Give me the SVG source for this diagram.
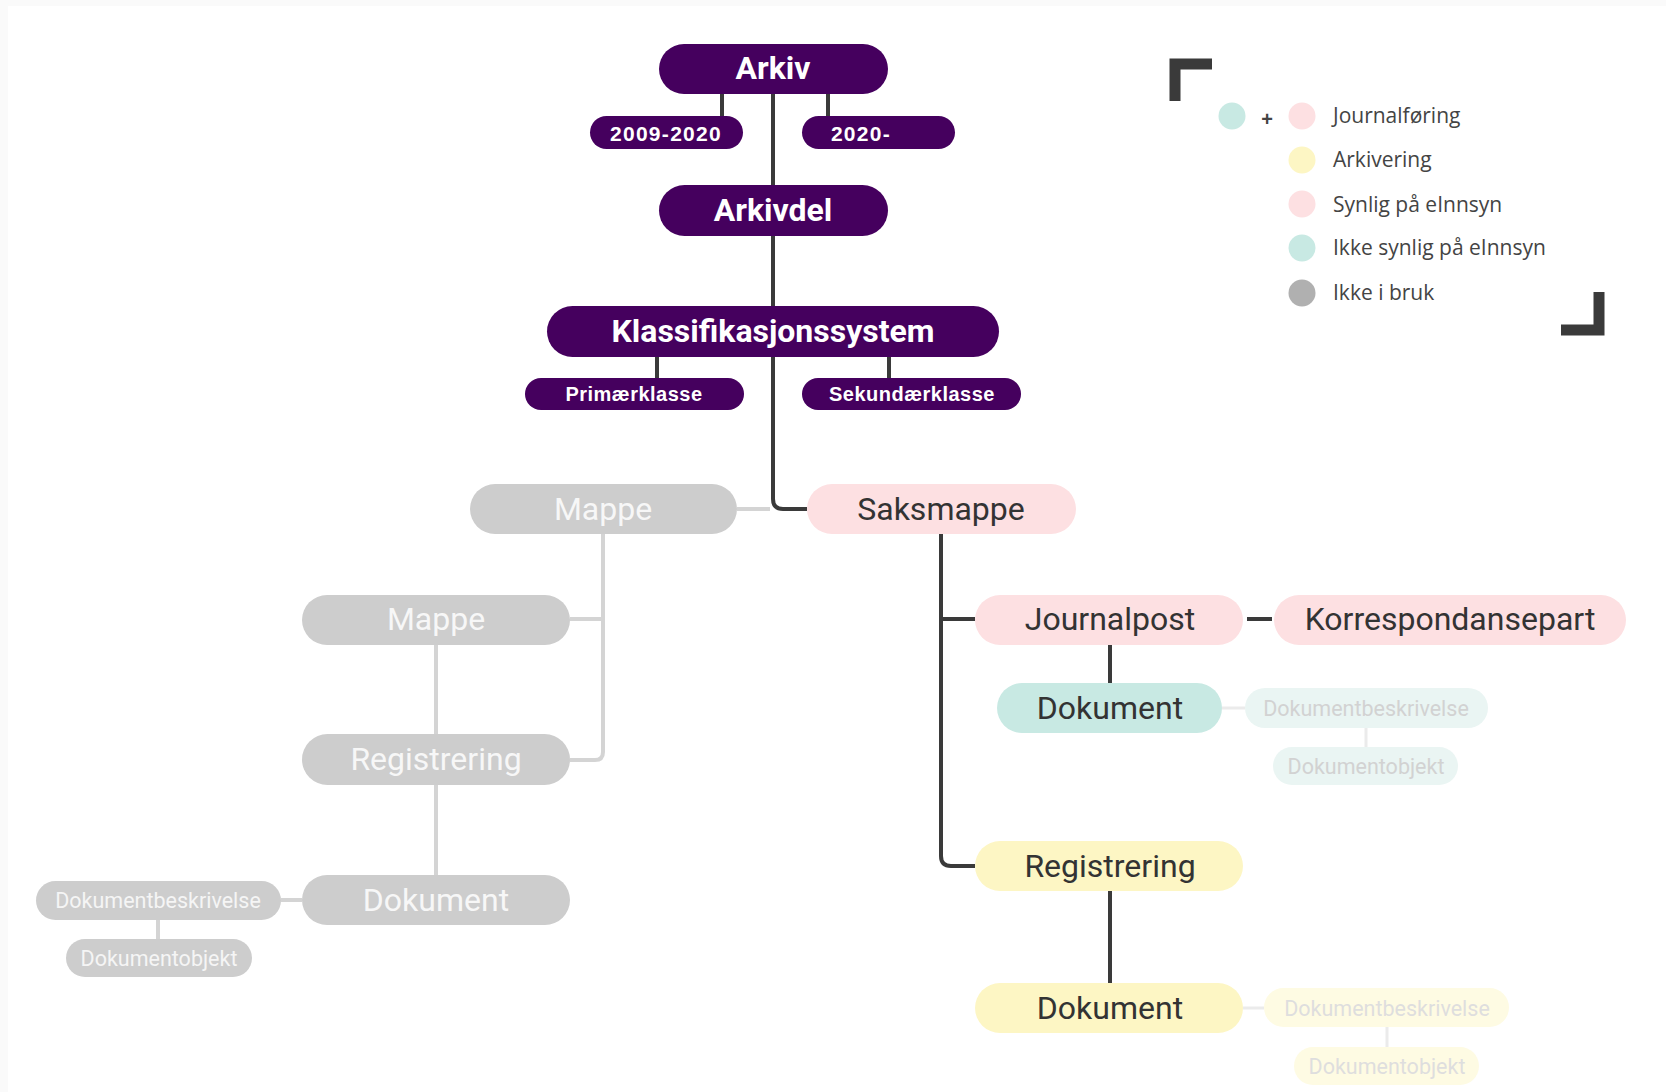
<svg xmlns="http://www.w3.org/2000/svg" width="1666" height="1092" viewBox="0 0 1666 1092">
<style>
.pill{stroke:none}
.pu{fill:#45005e}
.pk{fill:#fde0e2}
.te{fill:#c8e9e3}
.ye{fill:#fdf6c4}
.gr{fill:#cdcdcd}
.lte{fill:#eaf5f3}
.lye{fill:#fefbe3}
text{dominant-baseline:central;text-anchor:middle}
.tb{font-family:Roboto,"Liberation Sans",sans-serif;font-weight:700;font-size:32px;fill:#fff}
.ts{font-family:"Liberation Sans",Arial,sans-serif;font-weight:700;font-size:20px;fill:#fff;letter-spacing:0.5px}
.tm{font-family:Roboto,"Liberation Sans",sans-serif;font-size:32px;fill:#333}
.tg{font-family:Roboto,"Liberation Sans",sans-serif;font-size:32px;fill:#f7f7f7}
.tsg{font-family:Roboto,"Liberation Sans",sans-serif;font-size:21.5px;fill:#f5f5f5}
.tsl{font-family:Roboto,"Liberation Sans",sans-serif;font-size:21.5px;fill:#d2d2d2}
.tl{font-family:"Open Sans","Liberation Sans",sans-serif;font-size:21px;fill:#444;text-anchor:start}
.dk{fill:none;stroke:#3a3a3a;stroke-width:4}
.lg{fill:none;stroke:#d4d4d4;stroke-width:4}
.ll{fill:none;stroke:#ebebeb;stroke-width:3}
</style>
<rect x="0" y="0" width="1666" height="1092" fill="#fafafa"/>
<rect x="8" y="6" width="1658" height="1086" fill="#ffffff"/>
<g id="connectors">
<path class="dk" d="M773 94 V185 M773 236 V306 M773 357 V499 Q773 509 783 509 H807"/>
<path class="dk" d="M722 94 V116 M828 94 V116 M657 357 V378 M889 357 V378"/>
<path class="lg" d="M737 509 H770"/>
<path class="lg" d="M603 534 V752 Q603 760 595 760 H570 M603 619 H570"/>
<path class="lg" d="M436 645 V734 M436 785 V875 M281 900 H302 M158 920 V939"/>
<path class="dk" d="M941 534 V856 Q941 866 951 866 H975 M941 619 H975"/>
<path class="dk" d="M1247 619 H1272 M1110 645 V683 M1110 891 V983"/>
<path class="ll" d="M1222 708 H1245 M1366 728 V747 M1243 1008 H1264 M1387 1027 V1047"/>
</g>
<g id="arkiv"><rect class="pill pu" x="659" y="44" width="229" height="50" rx="25"/><text class="tb" x="773" y="68">Arkiv</text></g>
<g id="p2009"><rect class="pill pu" x="590" y="116" width="153" height="33" rx="16.5"/><text class="ts" x="666" y="133" style="font-size:21px;letter-spacing:1.3px">2009-2020</text></g>
<g id="p2020"><rect class="pill pu" x="802" y="116" width="153" height="33" rx="16.5"/><text class="ts" x="861" y="133" style="font-size:21px;letter-spacing:1.3px">2020-</text></g>
<g id="arkivdel"><rect class="pill pu" x="659" y="185" width="229" height="51" rx="25.5"/><text class="tb" x="773" y="210">Arkivdel</text></g>
<g id="klass"><rect class="pill pu" x="547" y="306" width="452" height="51" rx="25.5"/><text class="tb" x="773" y="331">Klassifikasjonssystem</text></g>
<g id="primaer"><rect class="pill pu" x="525" y="378" width="219" height="32" rx="16"/><text class="ts" x="634" y="394">Primærklasse</text></g>
<g id="sekundaer"><rect class="pill pu" x="802" y="378" width="219" height="32" rx="16"/><text class="ts" x="912" y="394">Sekundærklasse</text></g>
<g id="mappe1"><rect class="pill gr" x="470" y="484" width="267" height="50" rx="25"/><text class="tg" x="603" y="509">Mappe</text></g>
<g id="saksmappe"><rect class="pill pk" x="807" y="484" width="269" height="50" rx="25"/><text class="tm" x="941" y="509">Saksmappe</text></g>
<g id="mappe2"><rect class="pill gr" x="302" y="595" width="268" height="50" rx="25"/><text class="tg" x="436" y="619">Mappe</text></g>
<g id="registrering-g"><rect class="pill gr" x="302" y="734" width="268" height="51" rx="25.5"/><text class="tg" x="436" y="759">Registrering</text></g>
<g id="dokument-g"><rect class="pill gr" x="302" y="875" width="268" height="50" rx="25"/><text class="tg" x="436" y="900">Dokument</text></g>
<g id="dokbesk-g"><rect class="pill gr" x="36" y="881" width="245" height="39" rx="19.5"/><text class="tsg" x="158" y="900">Dokumentbeskrivelse</text></g>
<g id="dokobj-g"><rect class="pill gr" x="66" y="939" width="186" height="38" rx="19"/><text class="tsg" x="159" y="958">Dokumentobjekt</text></g>
<g id="journalpost"><rect class="pill pk" x="975" y="595" width="268" height="50" rx="25"/><text class="tm" x="1110" y="619">Journalpost</text></g>
<g id="korrespondansepart"><rect class="pill pk" x="1274" y="595" width="352" height="50" rx="25"/><text class="tm" x="1450" y="619">Korrespondansepart</text></g>
<g id="dokument-t"><rect class="pill te" x="997" y="683" width="225" height="50" rx="25"/><text class="tm" x="1110" y="708">Dokument</text></g>
<g id="dokbesk-t"><rect class="pill lte" x="1245" y="688" width="243" height="40" rx="20"/><text class="tsl" x="1366" y="708">Dokumentbeskrivelse</text></g>
<g id="dokobj-t"><rect class="pill lte" x="1273" y="747" width="185" height="38" rx="19"/><text class="tsl" x="1366" y="766">Dokumentobjekt</text></g>
<g id="registrering-y"><rect class="pill ye" x="975" y="841" width="268" height="50" rx="25"/><text class="tm" x="1110" y="866">Registrering</text></g>
<g id="dokument-y"><rect class="pill ye" x="975" y="983" width="268" height="50" rx="25"/><text class="tm" x="1110" y="1008">Dokument</text></g>
<g id="dokbesk-y"><rect class="pill lye" x="1264" y="988" width="245" height="39" rx="19.5"/><text class="tsl" x="1387" y="1008" style="fill:#dedede">Dokumentbeskrivelse</text></g>
<g id="dokobj-y"><rect class="pill lye" x="1294" y="1047" width="185" height="38" rx="19"/><text class="tsl" x="1387" y="1066" style="fill:#dedede">Dokumentobjekt</text></g>
<g id="legend">
<path d="M1175 101 V64 H1212" fill="none" stroke="#3a3a3a" stroke-width="11"/>
<path d="M1599 292 V330 H1561" fill="none" stroke="#3a3a3a" stroke-width="11"/>
<circle cx="1232" cy="116" r="13.5" fill="#c8e9e3"/>
<text x="1267" y="119" style="font-family:'Liberation Sans',sans-serif;font-size:20px;font-weight:700;fill:#444">+</text>
<circle cx="1302" cy="116" r="13.5" fill="#fde0e2"/>
<circle cx="1302" cy="160" r="13.5" fill="#fdf6c4"/>
<circle cx="1302" cy="204" r="13.5" fill="#fde0e2"/>
<circle cx="1302" cy="248" r="13.5" fill="#c8e9e3"/>
<circle cx="1302" cy="293" r="13.5" fill="#b0b0b0"/>
<text class="tl" x="1333" y="115">Journalføring</text>
<text class="tl" x="1333" y="159">Arkivering</text>
<text class="tl" x="1333" y="204">Synlig på eInnsyn</text>
<text class="tl" x="1333" y="247">Ikke synlig på eInnsyn</text>
<text class="tl" x="1333" y="292">Ikke i bruk</text>
</g>
</svg>
